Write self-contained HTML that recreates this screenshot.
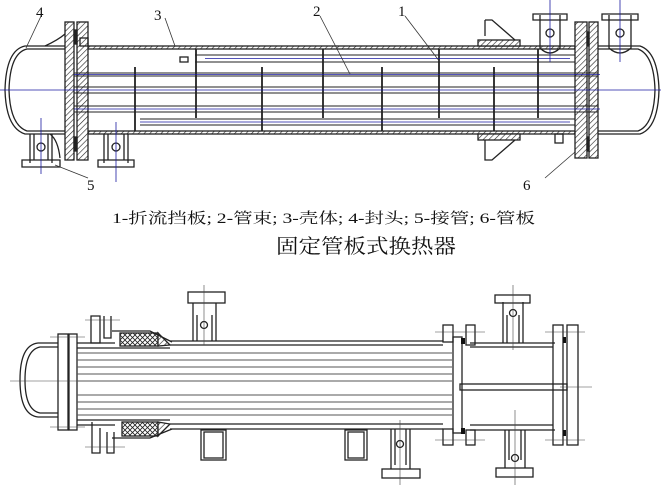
<!DOCTYPE html>
<html><head><meta charset="utf-8"><style>
html,body{margin:0;padding:0;background:#fff;}
svg{display:block;}
text{font-family:"Liberation Serif","Noto Serif CJK SC","Noto Sans CJK SC",serif;fill:#111;}
</style></head><body>
<svg width="661" height="502" viewBox="0 0 661 502" xmlns="http://www.w3.org/2000/svg">
<defs>
<pattern id="h" width="4" height="4" patternUnits="userSpaceOnUse" patternTransform="rotate(45)"><rect width="4" height="4" fill="#fff"/><line x1="0" y1="0" x2="0" y2="4" stroke="#222" stroke-width="1.2"/></pattern>
<pattern id="x" width="5" height="5" patternUnits="userSpaceOnUse"><rect width="5" height="5" fill="#fff"/><path d="M0 0L5 5M5 0L0 5" stroke="#222" stroke-width="0.8"/></pattern>
</defs>
<g fill="none" stroke="#222" stroke-width="1.3">
<path d="M65 46 L25 46 Q6 50 5 90 Q6 128 25 134 L65 134"/>
<path d="M65 49 L27 49 Q10 53 9 90 Q10 125 27 131 L65 131"/>
<path d="M598 46 L640 46 Q658 52 659 90 Q658 128 640 134 L598 134"/>
<path d="M598 49 L638 49 Q654 55 655 90 Q654 125 638 131 L598 131"/>
<rect x="88" y="46" width="487" height="3" fill="url(#h)"/>
<rect x="88" y="131" width="487" height="3" fill="url(#h)"/>
<rect x="65" y="22" width="9" height="138" fill="url(#h)"/>
<rect x="77" y="22" width="11" height="138" fill="url(#h)"/>
<rect x="74" y="30" width="3" height="14" fill="#222"/>
<rect x="74" y="137" width="3" height="14" fill="#222"/>
<path d="M45 46 Q58 40 65 34" />
<path d="M50 134 Q58 140 60 158" />
<rect x="575" y="22" width="12" height="136" fill="url(#h)"/>
<rect x="589" y="22" width="9" height="136" fill="url(#h)"/>
<rect x="587" y="32" width="2" height="14" fill="#222"/>
<rect x="587" y="137" width="2" height="14" fill="#222"/>
<g stroke-width="1.1">
<line x1="74" y1="73" x2="598" y2="73"/><line x1="74" y1="76" x2="598" y2="76"/>
<line x1="74" y1="87" x2="575" y2="87"/><line x1="74" y1="93" x2="575" y2="93"/>
<line x1="74" y1="106" x2="598" y2="106"/><line x1="74" y1="112" x2="598" y2="112"/>
<line x1="195" y1="55" x2="575" y2="55"/><line x1="195" y1="62" x2="575" y2="62"/>
<line x1="140" y1="119" x2="575" y2="119"/><line x1="140" y1="125" x2="575" y2="125"/>
</g>
<g stroke-width="1.8">
<line x1="196" y1="49" x2="196" y2="118"/><line x1="323" y1="49" x2="323" y2="118"/>
<line x1="439" y1="49" x2="439" y2="118"/><line x1="538" y1="49" x2="538" y2="118"/>
<line x1="135" y1="67" x2="135" y2="131"/><line x1="262" y1="67" x2="262" y2="131"/>
<line x1="382" y1="67" x2="382" y2="131"/><line x1="494" y1="67" x2="494" y2="131"/>
</g>
<rect x="180" y="57" width="8" height="5"/>
<rect x="80" y="38" width="8" height="8"/>
<rect x="555" y="134" width="8" height="9"/>
<path d="M30 134 L30 163 M52 134 L52 163 M34 134 L34 160 M48 134 L48 160"/>
<path d="M22 160 L60 160 L60 167 L22 167 Z"/>
<circle cx="41" cy="147" r="4"/>
<path d="M104 134 L104 163 M128 134 L128 163 M108 134 L108 160 M124 134 L124 160"/>
<path d="M98 160 L134 160 L134 167 L98 167 Z"/>
<circle cx="116" cy="147" r="4"/>
<path d="M540 15 L540 48 Q550 58 560 48 L560 15"/>
<path d="M533 14 L567 14 L567 20 L533 20 Z"/>
<circle cx="550" cy="33" r="4"/>
<path d="M609 15 L609 48 Q620 58 631 48 L631 15"/>
<path d="M602 14 L638 14 L638 20 L602 20 Z"/>
<circle cx="620" cy="33" r="4"/>
<path d="M485 20 L485 36 M485 20 L492 20 L515 40 L515 43"/>
<rect x="478" y="40" width="42" height="6" fill="url(#h)"/>
<rect x="478" y="134" width="42" height="6" fill="url(#h)"/>
<path d="M485 140 L485 160 L492 160 L515 140"/>
</g>
<g stroke="#1a1aa0" stroke-width="0.8">
<line x1="0" y1="90" x2="661" y2="90"/>
<line x1="74" y1="74.5" x2="600" y2="74.5"/><line x1="74" y1="109" x2="600" y2="109"/>
<line x1="205" y1="58.5" x2="570" y2="58.5"/><line x1="140" y1="122" x2="570" y2="122"/>
<line x1="41" y1="118" x2="41" y2="174"/><line x1="116" y1="122" x2="116" y2="182"/>
<line x1="550" y1="0" x2="550" y2="62"/><line x1="620" y1="0" x2="620" y2="62"/>
</g>
<g stroke="#333" stroke-width="0.8">
<line x1="42" y1="14" x2="26" y2="48"/><line x1="165" y1="18" x2="175" y2="46"/>
<line x1="320" y1="16" x2="350" y2="74"/><line x1="405" y1="16" x2="440" y2="62"/>
<line x1="55" y1="165" x2="88" y2="178"/><line x1="575" y1="152" x2="545" y2="178"/>
</g>
<g font-size="15">
<text x="36" y="17">4</text><text x="154" y="20">3</text><text x="313" y="16">2</text>
<text x="398" y="16">1</text><text x="87" y="190">5</text><text x="523" y="190">6</text>
</g>
<text x="112" y="223" font-size="15" textLength="423" lengthAdjust="spacingAndGlyphs">1-折流挡板; 2-管束; 3-壳体; 4-封头; 5-接管; 6-管板</text>
<text x="276" y="253" font-size="20" textLength="180" lengthAdjust="spacingAndGlyphs">固定管板式换热器</text>

<g fill="none" stroke="#222" stroke-width="1.3">
<path d="M62 343 L38 343 Q20 345 20 380 Q20 415 38 417 L62 417"/>
<path d="M62 347 L40 347 Q25 350 25 380 Q25 410 40 413 L62 413"/>
<rect x="58" y="334" width="10" height="96" fill="#fff"/>
<rect x="69" y="334" width="8" height="96" fill="#fff"/>
<path d="M77 343 L115 343 M77 348 L170 348 M77 420 L170 420 M77 425 L115 425"/>
<path d="M170 341 L443 341 M170 345 L443 345 M170 424 L443 424 M170 429 L443 429"/>
<g stroke="#555" stroke-width="1">
<line x1="77" y1="353" x2="452" y2="353"/><line x1="77" y1="360" x2="452" y2="360"/>
<line x1="77" y1="367" x2="452" y2="367"/><line x1="77" y1="374" x2="452" y2="374"/>
<line x1="77" y1="381" x2="452" y2="381"/><line x1="77" y1="395" x2="452" y2="395"/>
<line x1="77" y1="402" x2="452" y2="402"/><line x1="77" y1="409" x2="452" y2="409"/>
<line x1="77" y1="415" x2="452" y2="415"/>
</g>
<rect x="120" y="333" width="38" height="13" fill="url(#x)"/>
<path d="M158 333 L170 345 L158 346 Z" fill="url(#h)"/>
<path d="M112 331 L150 331 L172 342"/>
<path d="M91 316 L91 343 L100 343 L100 316 Z M104 316 L104 338 L111 338 L111 316"/>
<rect x="122" y="422" width="36" height="14" fill="url(#x)"/>
<path d="M158 422 L170 424 L158 436 Z" fill="url(#h)"/>
<path d="M112 438 L150 438 L172 429"/>
<path d="M92 422 L92 453 L100 453 L100 428 M107 432 L107 453 L114 453 L114 432"/>
<path d="M193 341 L193 303 M216 341 L216 303 M197 341 L197 315 M212 341 L212 315"/>
<rect x="188" y="292" width="37" height="11"/>
<circle cx="204" cy="325" r="3.5"/>
<rect x="201" y="430" width="25" height="30"/><rect x="204" y="432" width="19" height="26"/>
<rect x="345" y="430" width="22" height="30"/><rect x="348" y="432" width="16" height="26"/>
<path d="M391 429 L391 469 M410 429 L410 469 M395 429 L395 465 M406 429 L406 465"/>
<rect x="382" y="469" width="38" height="9"/>
<circle cx="400" cy="444" r="3.5"/>
<rect x="443" y="325" width="10" height="17"/><rect x="443" y="429" width="10" height="16"/>
<rect x="453" y="337" width="9" height="96"/>
<rect x="466" y="325" width="9" height="20"/><rect x="466" y="430" width="9" height="15"/>
<path d="M470 343 L555 343 M470 347 L553 347 M470 425 L553 425 M470 430 L555 430"/>
<rect x="460" y="384" width="107" height="6"/>
<rect x="553" y="325" width="10" height="120"/>
<rect x="567" y="325" width="11" height="120"/>
<path d="M503 343 L503 302 M523 343 L523 302 M507 343 L507 315 M519 343 L519 315"/>
<rect x="495" y="295" width="35" height="8"/>
<circle cx="513" cy="313" r="3.5"/>
<path d="M505 430 L505 468 M525 430 L525 468 M509 430 L509 460 M521 430 L521 460"/>
<rect x="496" y="468" width="37" height="9"/>
<circle cx="515" cy="458" r="3.5"/>
</g>
<g fill="#111">
<rect x="461" y="338" width="4" height="6"/><rect x="461" y="428" width="4" height="6"/>
<rect x="563" y="337" width="3" height="6"/><rect x="563" y="430" width="3" height="6"/>
</g>
<g stroke="#444" stroke-width="0.6">
<line x1="10" y1="381" x2="77" y2="381"/><line x1="560" y1="387" x2="592" y2="387"/>
<line x1="204" y1="285" x2="204" y2="345"/><line x1="513" y1="285" x2="513" y2="350"/>
<line x1="400" y1="420" x2="400" y2="485"/><line x1="515" y1="410" x2="515" y2="485"/>
<line x1="85" y1="320" x2="120" y2="320"/><line x1="50" y1="337" x2="85" y2="337"/>
<line x1="50" y1="427" x2="85" y2="427"/><line x1="85" y1="447" x2="125" y2="447"/>
<line x1="435" y1="332" x2="485" y2="332"/><line x1="545" y1="332" x2="585" y2="332"/>
<line x1="435" y1="440" x2="485" y2="440"/><line x1="545" y1="440" x2="585" y2="440"/>
</g>
</svg>
</body></html>
